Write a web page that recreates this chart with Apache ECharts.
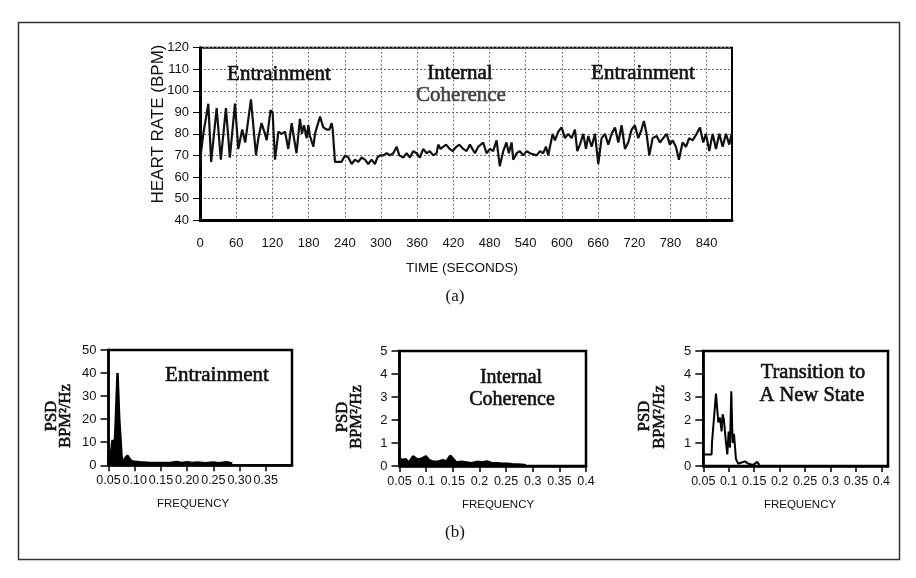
<!DOCTYPE html>
<html>
<head>
<meta charset="utf-8">
<title>Heart rate and power spectral density</title>
<script src="https://cdn.jsdelivr.net/npm/echarts@6/dist/echarts.min.js"></script>
<style>
  html, body { margin: 0; padding: 0; background: #ffffff; }
  #chart { width: 916px; height: 578px; }
</style>
</head>
<body>
<div id="chart"></div>
<script>
// ---- (a) heart rate over time ----
const hrTime = [
  0, 2, 5.5, 13.8, 18.5, 27.6, 34.5, 43, 49.5, 58, 63.5, 70, 75, 84.5, 92.8, 96.7, 102, 107.7, 110.5, 117,
  120.4, 124.3, 130, 135.4, 141, 146.4, 152, 155.8, 160, 165.7, 169, 172.4, 176.8, 179.6, 182.3, 188, 190.6, 193.4, 199, 204.4,
  210, 214.4, 218.3, 220, 223.8, 229, 234.8, 240.3, 245.9, 251.4, 256.9, 262.4, 268, 273.5, 279, 284.5, 290, 294, 298.3, 303.9,
  309.4, 314.9, 320.4, 326, 330.4, 337, 342.5, 348, 353.6, 359, 364.6, 370, 375.7, 381, 386.7, 392.3, 395, 399, 403, 408,
  414, 419, 425, 430, 436.5, 442, 447.5, 455.8, 461.3, 469.6, 475, 480.7, 486, 491.7, 497, 502.8, 508, 512, 516.6, 519.3,
  525, 530, 536, 541.4, 547, 558, 563.6, 569, 573.6, 577.4, 580.2, 584.6, 588.5, 594, 599.5, 605, 610.6, 616, 621.6, 625.5,
  630, 635.4, 639.9, 643.7, 649.3, 654.8, 660.3, 665.8, 671.4, 676.9, 682.4, 688, 693.5, 699, 704.5, 710, 715.6, 721, 726.6, 732,
  736, 740.4, 744.9, 750.4, 757, 762.6, 768, 773.6, 779, 783.5, 789, 794, 800, 805.7, 811, 816.7, 823.3, 828.9, 834.4, 838.8,
  844.3, 849.9, 855.4, 861, 866.5, 872, 877.5, 881.4
];
const hrBpm = [
  65, 72, 80, 94, 67, 92, 68, 92, 69, 94, 73, 82, 76, 96, 70, 78, 85, 80, 77, 91,
  90, 68, 81, 80, 81, 73, 85, 78, 71, 87, 80, 84, 78, 84, 79, 74, 80, 80, 88, 83,
  82, 82, 85, 82, 67, 67, 67, 70, 69, 66, 68, 67, 69, 68, 66, 68, 66, 69, 70, 70,
  71, 70, 71, 74, 70, 69, 71, 69, 72, 71, 69, 73, 71, 72, 70, 71, 75, 73, 74, 75,
  73, 72, 74, 75, 73, 72, 75, 71, 74, 76, 71, 73, 72, 77, 65, 72, 76, 71, 76, 68,
  71, 72, 70, 72, 71, 70, 72, 71, 74, 70, 74, 80, 77, 81, 83, 78, 80, 78, 82, 72,
  75, 80, 73, 79, 74, 80, 66, 78, 80, 75, 80, 83, 76, 84, 73, 76, 82, 84, 78, 82,
  86, 80, 70, 78, 79, 76, 78, 80, 75, 77, 74, 68, 76, 74, 78, 77, 80, 83, 76, 80,
  72, 80, 73, 80, 74, 80, 75, 80
];
const timeTicks = [0, 60, 120, 180, 240, 300, 360, 420, 480, 540, 600, 660, 720, 780, 840];
const bpmTicks = [40, 50, 60, 70, 80, 90, 100, 110, 120];

// ---- (b) power spectral density panels ----
const freqTicksShort = [0.05, 0.1, 0.15, 0.2, 0.25, 0.3, 0.35];
const freqTicks = [0.05, 0.1, 0.15, 0.2, 0.25, 0.3, 0.35, 0.4];

const entrainFreq = [0.05, 0.0505, 0.0515, 0.0535, 0.0577, 0.0605, 0.064, 0.0672, 0.0705, 0.0754, 0.080, 0.0862, 0.0925, 0.099,
  0.11, 0.13, 0.15, 0.17, 0.18, 0.19, 0.2, 0.21, 0.22, 0.235, 0.25, 0.26, 0.275, 0.286];
const entrainPsd = [0, 4.5, 0.5, 3, 11, 1.5, 20, 40, 20, 2, 2.5, 4.2, 2, 1.5,
  1.3, 1.0, 1.0, 1.1, 1.4, 1.0, 1.3, 1.0, 1.2, 0.9, 1.2, 0.9, 1.3, 0.8];

const coherFreq = [0.05, 0.055, 0.0613, 0.068, 0.0753, 0.0836, 0.09, 0.0995, 0.106, 0.112, 0.12, 0.1314, 0.138, 0.1454, 0.151,
  0.157, 0.166, 0.176, 0.185, 0.195, 0.205, 0.214, 0.223, 0.2331, 0.243, 0.2522, 0.262, 0.2712, 0.28, 0.287];
const coherPsd = [0.35, 0.25, 0.3, 0.15, 0.42, 0.28, 0.3, 0.42, 0.25, 0.2, 0.18, 0.25, 0.2, 0.45, 0.3,
  0.15, 0.18, 0.15, 0.12, 0.18, 0.15, 0.2, 0.12, 0.12, 0.1, 0.1, 0.08, 0.07, 0.05, 0.03];

const transFreq = [0.05, 0.0663, 0.067, 0.0705, 0.0749, 0.0795, 0.0828, 0.086, 0.088, 0.0906, 0.0946, 0.0972, 0.0998, 0.1024,
  0.105, 0.1076, 0.1103, 0.1142, 0.1188, 0.1253, 0.1318, 0.1384, 0.1482, 0.156, 0.16];
const transPsd = [0.5, 0.5, 1.0, 1.0, 3.15, 1.9, 2.1, 1.5, 2.25, 2.0, 1.0, 0.5, 1.5, 0.8,
  3.25, 1.0, 1.4, 0.3, 0.1, 0.15, 0.2, 0.1, 0.05, 0.18, 0.05];

const zip = (xs, ys) => xs.map((x, i) => [x, ys[i]]);
const sans = '"Liberation Sans", Arial, Helvetica, sans-serif';
const serif = '"Liberation Serif", "Times New Roman", serif';
const ink = '#111111';

function psdXAxis(gridIndex, max, labels, fmt) {
  return {
    type: 'value', gridIndex: gridIndex, min: 0.05, max: max, interval: 0.05,
    axisLine: { show: true, onZero: false, lineStyle: { color: '#000', width: 2.5 } },
    axisTick: { show: true, inside: false, length: 6, customValues: labels, lineStyle: { color: '#000', width: 1.5 } },
    axisLabel: { customValues: labels, formatter: fmt, margin: 9, fontFamily: sans, fontSize: 12.5, color: ink,
      showMinLabel: true, showMaxLabel: true },
    splitLine: { show: false }
  };
}
function psdYAxis(gridIndex, max, interval) {
  return {
    type: 'value', gridIndex: gridIndex, min: 0, max: max, interval: interval,
    axisLine: { show: true, onZero: false, lineStyle: { color: '#000', width: 2.5 } },
    axisTick: { show: true, inside: false, length: 8, lineStyle: { color: '#000', width: 1.5 } },
    axisLabel: { margin: 12, fontFamily: sans, fontSize: 13, color: ink },
    splitLine: { show: false }
  };
}
const fmt2 = v => v.toFixed(2);
const fmtShort = v => String(parseFloat(v.toFixed(2)));

// Plain text label; "thick" adds a hairline outline so the serif reads semibold.
function label(x, y, text, size, opts) {
  opts = opts || {};
  const fill = opts.fill || ink;
  const style = {
    text: text, font: size + 'px ' + (opts.family || serif),
    fill: fill, textAlign: 'center', textVerticalAlign: 'middle'
  };
  if (opts.thick) { style.stroke = fill; style.lineWidth = 0.6; }
  return { type: 'text', x: x, y: y, rotation: opts.rotation || 0, silent: true, z: 10, style: style };
}
const up = Math.PI / 2;
const heavy = { thick: true };

const chart = echarts.init(document.getElementById('chart'), null, { renderer: 'canvas' });
chart.setOption({
  animation: false,
  backgroundColor: '#ffffff',
  grid: [
    { left: 200, top: 47.7, width: 532, height: 172.3, show: true, borderColor: '#000', borderWidth: 2, backgroundColor: 'transparent' },
    { left: 108.5, top: 350, width: 183.5, height: 115.3, show: true, borderColor: '#000', borderWidth: 2.5 },
    { left: 399.5, top: 351, width: 186.5, height: 115, show: true, borderColor: '#000', borderWidth: 2.5 },
    { left: 703.3, top: 351, width: 184.7, height: 115, show: true, borderColor: '#000', borderWidth: 2.5 }
  ],
  xAxis: [
    {
      type: 'value', gridIndex: 0, min: 0, max: 882, interval: 60,
      axisLine: { show: true, onZero: false, lineStyle: { color: '#000', width: 3 } },
      axisTick: { show: false, customValues: timeTicks },
      axisLabel: { customValues: timeTicks, margin: 17, fontFamily: sans, fontSize: 13, color: ink,
        formatter: v => (v % 60 === 0 ? String(v) : '') },
      splitLine: { show: true, lineStyle: { color: '#6a6a6a', width: 1, type: [2, 2] } }
    },
    psdXAxis(1, 0.4, freqTicksShort, fmt2),
    psdXAxis(2, 0.4, freqTicks, fmtShort),
    psdXAxis(3, 0.413, freqTicks, fmtShort)
  ],
  yAxis: [
    {
      type: 'value', gridIndex: 0, min: 40, max: 120, interval: 10,
      axisLine: { show: true, onZero: false, lineStyle: { color: '#000', width: 3 } },
      axisTick: { show: true, inside: false, length: 7, customValues: bpmTicks, lineStyle: { color: '#000', width: 1 } },
      axisLabel: { customValues: bpmTicks, margin: 11, fontFamily: sans, fontSize: 13, color: ink },
      splitLine: { show: true, lineStyle: { color: '#6a6a6a', width: 1, type: [2, 2] } }
    },
    psdYAxis(1, 50, 10),
    psdYAxis(2, 5, 1),
    psdYAxis(3, 5, 1)
  ],
  series: [
    {
      type: 'line', xAxisIndex: 0, yAxisIndex: 0, data: zip(hrTime, hrBpm),
      showSymbol: false, symbol: 'none', smooth: false,
      lineStyle: { color: '#111', width: 2.2 }, z: 5
    },
    {
      type: 'line', xAxisIndex: 1, yAxisIndex: 1, data: zip(entrainFreq, entrainPsd),
      showSymbol: false, symbol: 'none',
      lineStyle: { color: '#000', width: 2.5 }, areaStyle: { color: '#000', opacity: 1 }
    },
    {
      type: 'line', xAxisIndex: 2, yAxisIndex: 2, data: zip(coherFreq, coherPsd),
      showSymbol: false, symbol: 'none',
      lineStyle: { color: '#000', width: 2.5 }, areaStyle: { color: '#000', opacity: 1 }
    },
    {
      type: 'line', xAxisIndex: 3, yAxisIndex: 3, data: zip(transFreq, transPsd),
      showSymbol: false, symbol: 'none',
      lineStyle: { color: '#000', width: 2 }
    }
  ],
  graphic: [
    { type: 'rect', silent: true, z: -10, shape: { x: 18.5, y: 22.5, width: 881, height: 537 },
      style: { fill: 'none', stroke: '#333', lineWidth: 1.5 } },

    // panel (a) annotations and axis titles
    label(279, 74, 'Entrainment', 21, heavy),
    label(460, 73, 'Internal', 21, heavy),
    label(461, 95, 'Coherence', 21, { thick: true, fill: '#444' }),
    label(643, 73, 'Entrainment', 21, heavy),
    label(158, 124, 'HEART RATE (BPM)', 17, { family: sans, rotation: up }),
    label(462, 268, 'TIME (SECONDS)', 13.5, { family: sans }),
    label(455, 297, '(a)', 17),

    // panel (b) annotations and axis titles
    label(217, 375, 'Entrainment', 21, heavy),
    label(511, 378, 'Internal', 20, heavy),
    label(512, 400, 'Coherence', 20, heavy),
    label(813, 373, 'Transition to', 20.5, heavy),
    label(812, 396, 'A New State', 20.5, heavy),

    label(52, 416, 'PSD', 16.5, { thick: true, rotation: up }),
    label(66, 416, 'BPM²/Hz', 16.5, { thick: true, rotation: up }),
    label(343, 417, 'PSD', 16.5, { thick: true, rotation: up }),
    label(357, 417, 'BPM²/Hz', 16.5, { thick: true, rotation: up }),
    label(645, 416, 'PSD', 16.5, { thick: true, rotation: up }),
    label(660, 417, 'BPM²/Hz', 16.5, { thick: true, rotation: up }),

    label(193, 504, 'FREQUENCY', 11.5, { family: sans }),
    label(498, 505, 'FREQUENCY', 11.5, { family: sans }),
    label(800, 505, 'FREQUENCY', 11.5, { family: sans }),
    label(455, 533, '(b)', 17)
  ]
});
</script>
</body>
</html>
